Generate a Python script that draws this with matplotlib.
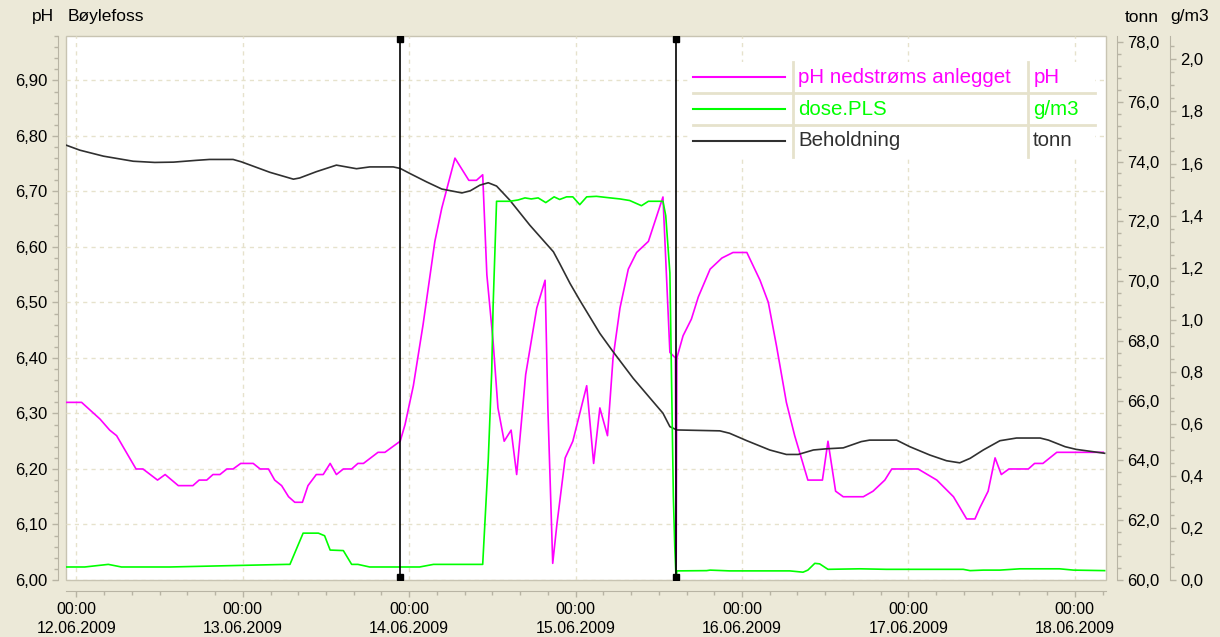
import pandas as pd
import matplotlib
matplotlib.use('Agg')
import matplotlib.pyplot as plt
import matplotlib.dates as mdates
from matplotlib.ticker import FuncFormatter, MultipleLocator
from matplotlib.patches import Rectangle

# hours after 12.06.2009 00:00
ph_hours = [-1.5, 0.75, 3.4, 4.8, 5.8, 7.2, 8.6, 9.6, 11.7, 12.8, 14.7, 16.8, 17.7, 18.8,
            19.7, 20.7, 21.7, 22.6, 23.7, 25.5, 26.5, 27.7, 28.6, 29.6, 30.6, 31.5, 32.6,
            33.4, 34.6, 35.6, 36.6, 37.5, 38.5, 39.7, 40.6, 41.4, 43.5, 44.5, 46.7, 47.4,
            48.6, 50.0, 51.7, 52.7, 54.6, 56.6, 57.7, 58.6, 59.2, 60.1, 60.8, 61.7, 62.7,
            63.5, 64.8, 66.4, 67.6, 68.0, 68.7, 69.3, 70.5, 71.6, 72.6, 73.6, 74.6, 75.5,
            76.6, 77.4, 78.4, 79.6, 80.8, 82.5, 84.6, 85.6, 86.4, 86.5, 86.6, 87.5, 88.7,
            89.7, 91.4, 93.1, 94.7, 96.7, 98.6, 99.8, 101.0, 102.4, 103.6, 105.5, 107.6,
            108.4, 109.5, 110.6, 113.5, 114.9, 116.6, 117.6, 121.4, 124.1, 126.5, 128.4,
            129.6, 130.3, 131.5, 132.5, 133.4, 134.5, 137.3, 138.2, 139.4, 141.4, 148.1]
ph_values = [6.32, 6.32, 6.29, 6.27, 6.26, 6.23, 6.20, 6.20, 6.18, 6.19, 6.17, 6.17, 6.18, 6.18,
             6.19, 6.19, 6.20, 6.20, 6.21, 6.21, 6.20, 6.20, 6.18, 6.17, 6.15, 6.14, 6.14,
             6.17, 6.19, 6.19, 6.21, 6.19, 6.20, 6.20, 6.21, 6.21, 6.23, 6.23, 6.25, 6.28,
             6.35, 6.46, 6.61, 6.67, 6.76, 6.72, 6.72, 6.73, 6.55, 6.43, 6.31, 6.25, 6.27,
             6.19, 6.37, 6.49, 6.54, 6.31, 6.03, 6.10, 6.22, 6.25, 6.30, 6.35, 6.21, 6.31,
             6.26, 6.40, 6.49, 6.56, 6.59, 6.61, 6.69, 6.41, 6.40, 6.00, 6.40, 6.44, 6.47,
             6.51, 6.56, 6.58, 6.59, 6.59, 6.54, 6.50, 6.42, 6.32, 6.26, 6.18, 6.18,
             6.25, 6.16, 6.15, 6.15, 6.16, 6.18, 6.20, 6.20, 6.18, 6.15, 6.11,
             6.11, 6.13, 6.16, 6.22, 6.19, 6.20, 6.20, 6.21, 6.21, 6.23, 6.23]

dose_hours = [-1.4, 1.2, 4.6, 6.5, 11.3, 12.5, 13.5, 30.3, 30.8, 32.7, 34.9, 35.8, 36.6, 38.5,
              39.7, 40.6, 42.3, 49.5, 51.5, 58.6, 59.4, 59.9, 60.1, 60.6, 62.5, 63.7, 64.7,
              65.6, 66.6, 67.7, 68.9, 69.7, 70.7, 71.6, 72.6, 73.6, 75.0, 77.0, 78.4, 79.8,
              81.5, 82.5, 84.6, 85.0, 85.6, 86.1, 86.3, 86.5, 86.6, 90.9, 91.4, 94.2, 102.9,
              104.8, 105.5, 106.5, 107.2, 108.4, 113.0, 116.8, 127.9, 128.9, 130.8, 133.2,
              136.1, 141.8, 143.8, 148.3]
dose_values = [0.05, 0.05, 0.06, 0.05, 0.05, 0.05, 0.05, 0.06, 0.06, 0.18, 0.18, 0.17, 0.115, 0.113,
               0.06, 0.06, 0.05, 0.05, 0.06, 0.06, 0.46, 0.80, 1.05, 1.455, 1.455, 1.46, 1.468,
               1.464, 1.468, 1.45, 1.472, 1.462, 1.472, 1.472, 1.442, 1.472, 1.474, 1.468, 1.464, 1.458,
               1.438, 1.455, 1.455, 1.40, 1.18, 0.32, 0.13, 0.0, 0.035, 0.036, 0.038, 0.035, 0.035,
               0.03, 0.038, 0.064, 0.062, 0.041, 0.043, 0.041, 0.041, 0.036, 0.038, 0.038,
               0.043, 0.043, 0.038, 0.036]

stock_hours = [-1.5, 0.5, 3.9, 8.2, 11.3, 14.0, 17.3, 19.2, 22.6, 23.8, 27.9, 31.3, 32.2, 34.6,
               37.5, 40.4, 42.3, 45.7, 46.7, 48.1, 50.5, 52.7, 55.6, 56.8, 58.2, 59.4, 60.6,
               62.5, 65.4, 68.8, 69.7, 71.2, 72.6, 75.5, 77.4, 80.3, 83.2, 84.6, 85.6, 86.6,
               92.8, 94.2, 96.7, 100.0, 102.4, 104.1, 106.3, 108.2, 110.6, 113.2, 114.4, 118.3,
               120.2, 123.1, 125.5, 127.4, 128.9, 130.8, 133.2, 135.6, 139.0, 140.2, 142.6,
               144.2, 148.3]
stock_values = [74.55, 74.38, 74.18, 74.01, 73.97, 73.98, 74.04, 74.07, 74.07, 73.99, 73.64, 73.41,
                73.45, 73.66, 73.88, 73.76, 73.82, 73.82, 73.77, 73.60, 73.32, 73.08, 72.95, 73.02,
                73.21, 73.29, 73.18, 72.71, 71.87, 70.98, 70.59, 69.92, 69.36, 68.25, 67.64, 66.75,
                65.96, 65.58, 65.13, 65.02, 64.99, 64.91, 64.66, 64.35, 64.20, 64.20, 64.35, 64.39,
                64.42, 64.63, 64.68, 64.68, 64.46, 64.18, 63.99, 63.92, 64.07, 64.35, 64.66, 64.75,
                64.75, 64.68, 64.46, 64.37, 64.24]

cursor_hours = [46.7, 86.5]

series_names = ['pH nedstrøms anlegget', 'dose.PLS', 'Beholdning']
series_units = ['pH', 'g/m3', 'tonn']
series_colors = ['#ff00ff', '#00ff00', '#303030']

start = pd.Timestamp('2009-06-12 00:00')
def to_time(hours):
    return start + pd.to_timedelta(hours, unit='h')

bg = '#ece9d8'
grid_c = '#e6e2cc'
spine_c = '#b8b4a4'

plt.rcParams['font.family'] = ['Liberation Sans', 'DejaVu Sans']
fig = plt.figure(figsize=(12.2, 6.37), dpi=100, facecolor=bg)
ax = fig.add_axes([66 / 1220, 1 - 580 / 637, 1040 / 1220, 544 / 637])
ax.set_facecolor('white')
ax_t = ax.twinx()
ax_g = ax.twinx()

comma = lambda d: FuncFormatter(lambda v, p: f'{v:.{d}f}'.replace('.', ','))

ax.plot(to_time(ph_hours), ph_values, color=series_colors[0], lw=1.2)
ax_t.plot(to_time(stock_hours), stock_values, color=series_colors[2], lw=1.2)
ax_g.plot(to_time(dose_hours), dose_values, color=series_colors[1], lw=1.2)

ax.set_xlim(to_time(-1.5), to_time(148.5))
ax.set_ylim(6.0, 6.98)
ax_t.set_ylim(60.0, 78.2)
ax_g.set_ylim(0.0, 2.09)

ax.xaxis.set_major_locator(mdates.DayLocator())
ax.xaxis.set_minor_locator(mdates.HourLocator(byhour=range(0, 24, 4)))
ax.xaxis.set_major_formatter(mdates.DateFormatter('%H:%M\n%d.%m.%Y'))
ax.yaxis.set_major_locator(MultipleLocator(0.1))
ax.yaxis.set_minor_locator(MultipleLocator(0.02))
ax.yaxis.set_major_formatter(comma(2))
ax_t.yaxis.set_major_locator(MultipleLocator(2))
ax_t.yaxis.set_minor_locator(MultipleLocator(0.4))
ax_t.yaxis.set_major_formatter(comma(1))
ax_g.yaxis.set_major_locator(MultipleLocator(0.2))
ax_g.yaxis.set_minor_locator(MultipleLocator(0.05))
ax_g.yaxis.set_major_formatter(comma(1))

ax.grid(True, which='major', color=grid_c, ls=(0, (3, 3)), lw=1)

for a in (ax, ax_t, ax_g):
    for s in a.spines.values():
        s.set_visible(False)
    a.tick_params(which='both', color=spine_c, labelsize=12, labelcolor='black')
    a.tick_params(which='major', length=4, width=1)
    a.tick_params(which='minor', length=3, width=1)

ax.spines['left'].set_visible(True)
ax.spines['left'].set_position(('outward', 6))
ax.spines['bottom'].set_visible(True)
ax.spines['bottom'].set_position(('outward', 8))
ax_t.spines['right'].set_visible(True)
ax_t.spines['right'].set_position(('outward', 8))
ax_g.spines['right'].set_visible(True)
ax_g.spines['right'].set_position(('outward', 46))
for s in (ax.spines['left'], ax.spines['bottom'], ax_t.spines['right'], ax_g.spines['right']):
    s.set_color(spine_c)
ax.tick_params(axis='x', which='major', pad=4, labelsize=11.5)
for lab in ax.get_xticklabels():
    lab.set_linespacing(1.3)

ax.add_patch(Rectangle((0, 0), 1, 1, transform=ax.transAxes, fill=False,
                       edgecolor='#c8c4b2', lw=1, clip_on=False, zorder=0.5))

# cursors
for h in cursor_hours:
    t = to_time(h)
    ax_g.plot([t, t], [0.994, 0.006], transform=ax_g.get_xaxis_transform(), color='black',
              lw=1.2, marker='s', markersize=4, zorder=8)

# legend table
tr = ax_g.transAxes
ax_g.add_patch(Rectangle((0.6, 0.778), 0.389, 0.174, transform=tr, facecolor='white',
                         edgecolor='none', zorder=9))
for yy in (0.895, 0.836):
    ax_g.plot([0.603, 0.989], [yy, yy], transform=tr, color=grid_c, lw=2, zorder=10)
for xx in (0.699, 0.925):
    ax_g.plot([xx, xx], [0.778, 0.952], transform=tr, color=grid_c, lw=2, zorder=10)
for i, yy in enumerate([0.9246, 0.8658, 0.807]):
    ax_g.plot([0.603, 0.691], [yy, yy], transform=tr, color=series_colors[i], lw=1.5, zorder=11)
    ax_g.text(0.704, yy, series_names[i], transform=tr, color=series_colors[i],
              fontsize=14.8, va='center', ha='left', zorder=11)
    ax_g.text(0.93, yy, series_units[i], transform=tr, color=series_colors[i],
              fontsize=14.8, va='center', ha='left', zorder=11)

fig.text(32 / 1220, 1 - 17 / 637, 'pH', fontsize=12.5, va='center', ha='left')
fig.text(68 / 1220, 1 - 17 / 637, 'Bøylefoss', fontsize=12.5, va='center', ha='left')
fig.text(1125 / 1220, 1 - 17 / 637, 'tonn', fontsize=12.5, va='center', ha='left')
fig.text(1170 / 1220, 1 - 17 / 637, 'g/m3', fontsize=12.5, va='center', ha='left')

fig.savefig('out.png', dpi=100, facecolor=bg)
